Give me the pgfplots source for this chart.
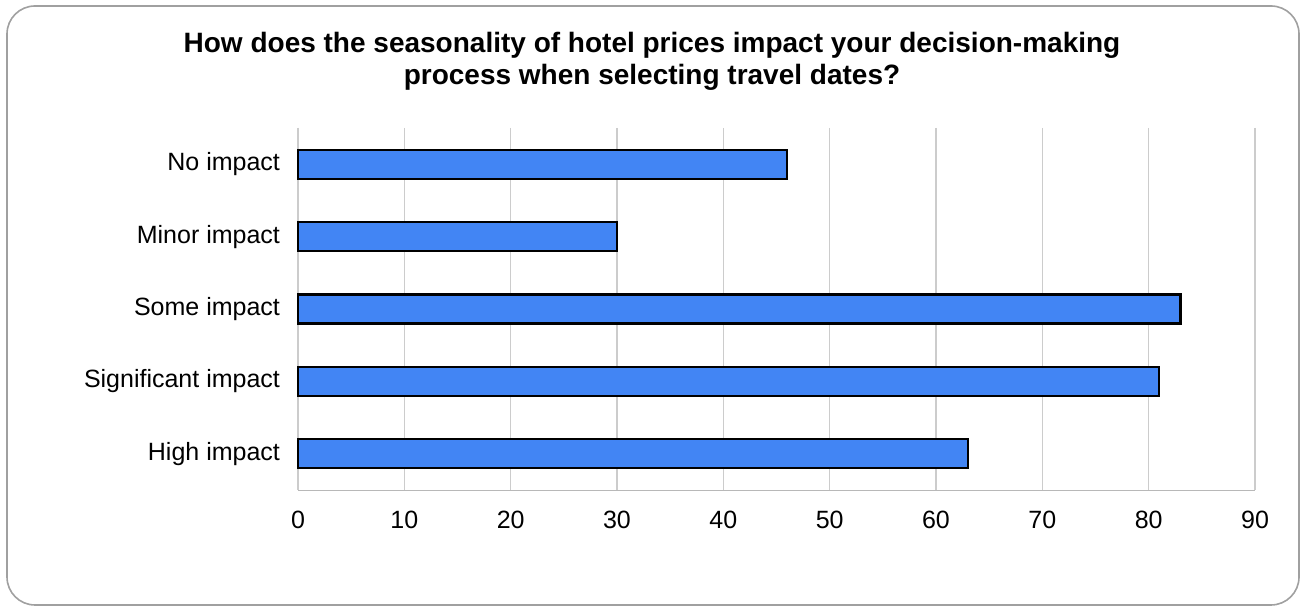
\documentclass[border=0pt]{standalone}
\usepackage{pgfplots}
\pgfplotsset{compat=1.18}
\usepackage{fontspec}
\setmainfont{Liberation Sans}
\definecolor{barblue}{HTML}{4285F4}
\definecolor{gridgray}{HTML}{CCCCCC}
\definecolor{framegray}{HTML}{A0A0A0}
\begin{document}
\begin{tikzpicture}[x=1pt,y=1pt]
\path (0,0) rectangle (653,304);
\draw[framegray, line width=0.8pt, rounded corners=14pt] (3.5,1.5) rectangle (649.5,301);
\node[align=center, font=\fontsize{14}{16}\selectfont\bfseries] at (326,273.5)
  {How does the seasonality of hotel prices impact your decision-making\\process when selecting travel dates?};
\begin{axis}[
  at={(149pt,59pt)}, anchor=south west,
  scale only axis, width=478.5pt, height=181pt,
  xbar, bar width=14.5pt,
  xmin=0, xmax=90, xtick={0,10,...,90},
  ymin=-0.5, ymax=4.5, y dir=reverse,
  ytick={0,1,2,3,4},
  yticklabels={No impact, Minor impact, Some impact, Significant impact, High impact},
  axis x line*=bottom, axis y line*=left,
  x axis line style={gridgray!90!black},
  y axis line style={gridgray},
  xmajorgrids, grid style={gridgray, line width=0.6pt},
  major tick length=0pt,
  tick label style={font=\fontsize{12.5}{14}\selectfont},
  /pgf/number format/assume math mode=true,
  yticklabel style={xshift=-5.5pt},
  xticklabel style={yshift=-7pt},
  clip=false,
]
\addplot[fill=barblue, draw=black, line width=1.1pt] coordinates {
  (46,0) (30,1) (83,2) (81,3) (63,4)
};
\end{axis}
\end{tikzpicture}
\end{document}
